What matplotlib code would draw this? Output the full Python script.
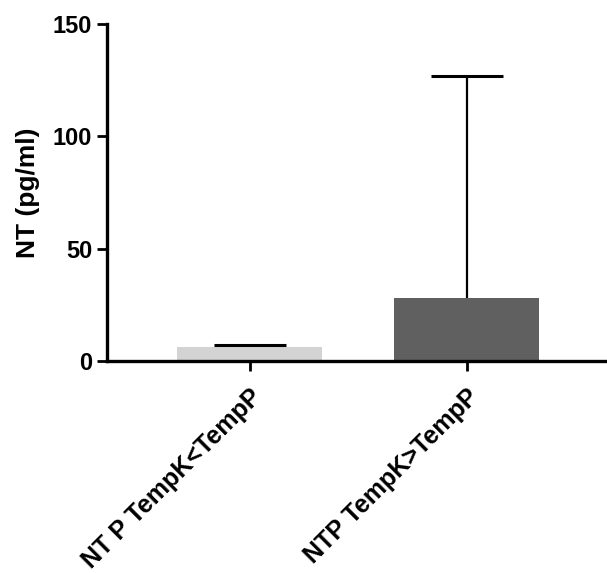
import matplotlib.pyplot as plt
from matplotlib.transforms import ScaledTranslation

plt.rcParams['font.family'] = ['Liberation Sans', 'DejaVu Sans']
plt.rcParams['font.weight'] = 'bold'

# Data
groups = ["NT P TempK<TempP", "NTP TempK>TempP"]
means = [6.1, 28.0]
upper_err = [0.9, 99.0]
bar_colors = ["#d3d3d3", "#606060"]

fig = plt.figure(figsize=(6.07, 5.73), dpi=100)
ax = fig.add_axes([0.176, 0.370, 0.821, 0.588])

x = list(range(len(groups)))
ax.bar(x, means, width=0.668, color=bar_colors, zorder=2)
eb = ax.errorbar(x, means, yerr=[[0] * len(groups), upper_err], fmt='none',
                 ecolor='black', elinewidth=1.6, capsize=25.6, capthick=2.2, zorder=3)
# only the upper cap is shown
eb[1][0].set_visible(False)

ax.set_xlim(-0.66, 1.64)
ax.set_ylim(0, 150)
ax.set_yticks([0, 50, 100, 150])
ax.set_xticks(x)
ax.set_xticklabels(groups, rotation=45, ha='right', rotation_mode='anchor', fontsize=18)

# nudge the slanted labels a little to the left
shift = ScaledTranslation(-8 / 100, 0, fig.dpi_scale_trans)
for lbl in ax.get_xticklabels():
    lbl.set_transform(lbl.get_transform() + shift)

for s in ['top', 'right']:
    ax.spines[s].set_visible(False)
for s in ['left', 'bottom']:
    ax.spines[s].set_linewidth(2.4)

ax.tick_params(axis='both', width=2, length=7)
ax.tick_params(axis='y', labelsize=17)
ax.tick_params(axis='x', pad=10)
ax.set_ylabel("NT (pg/ml)", fontsize=19, fontweight='bold', labelpad=9)

# Save the plot
fig.savefig("out.png", dpi=100)
